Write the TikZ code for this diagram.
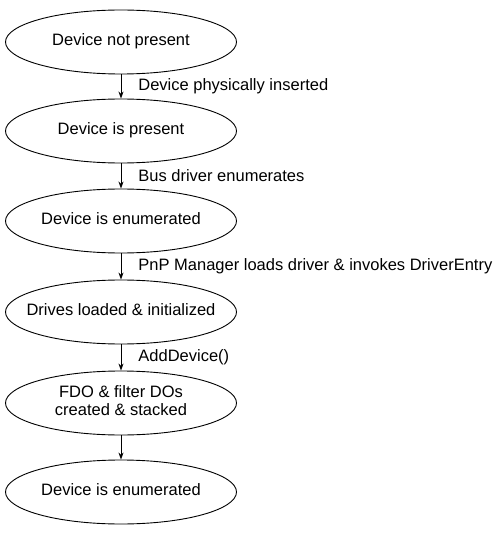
\documentclass[tikz,border=0pt]{standalone}
\usepackage{fontspec}
\setmainfont{Liberation Sans}
\usetikzlibrary{arrows.meta,shapes.geometric}
\newcommand{\zw}[1]{\makebox[0pt]{\begin{tabular}{@{}c@{}}#1\end{tabular}}}
\begin{document}
\begin{tikzpicture}[x=1pt,y=-1pt,
  state/.style={draw, ellipse, minimum width=231pt, minimum height=64pt, inner sep=0pt,
    font=\fontsize{16.5}{18}\selectfont, line width=0.9pt},
  arr/.style={-{Stealth[length=7pt,width=5pt]}, line width=0.8pt},
  lbl/.style={midway, anchor=west, xshift=17pt, font=\fontsize{16.5}{18}\selectfont, inner sep=0pt}
]
\useasboundingbox (0,0) rectangle (500,537);
\node[state] (n1) at (121,42) {\zw{Device not present}};
\node[state] (n2) at (121,131) {\zw{Device is present}};
\node[state] (n3) at (121,221) {\zw{Device is enumerated}};
\node[state] (n4) at (121,312) {\zw{Drives loaded \& initialized}};
\node[state] (n5) at (121,403) {\zw{FDO \& filter DOs\\created \& stacked}};
\node[state] (n6) at (121,492) {\zw{Device is enumerated}};
\draw[arr] (n1) -- (n2) node[lbl] {Device physically inserted};
\draw[arr] (n2) -- (n3) node[lbl] {Bus driver enumerates};
\draw[arr] (n3) -- (n4) node[lbl] {PnP Manager loads driver \& invokes DriverEntry};
\draw[arr] (n4) -- (n5) node[lbl] {AddDevice()};
\draw[arr] (n5) -- (n6);
\end{tikzpicture}
\end{document}
